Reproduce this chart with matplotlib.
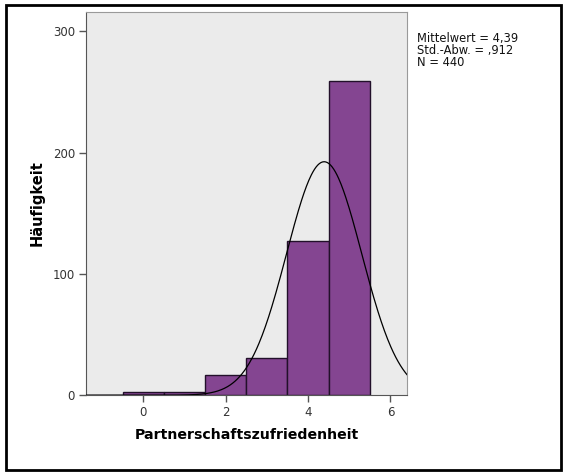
import numpy as np
import matplotlib

matplotlib.use("Agg")
import matplotlib.pyplot as plt
from matplotlib.patches import Rectangle

# histogram data
bin_centers = [-1, 0, 1, 2, 3, 4, 5]
counts = [0, 3, 3, 17, 31, 127, 259]
mean_val = 4.39
std_val = 0.912
n_total = 440
stats_lines = ["Mittelwert = 4,39", "Std.-Abw. = ,912", "N = 440"]
x_ticks = [0, 2, 4, 6]
y_ticks = [0, 100, 200, 300]

plt.rcParams["font.family"] = ["DejaVu Sans"]

fig = plt.figure(figsize=(5.66, 4.75), dpi=100)
ax = fig.add_axes([0.152, 0.168, 0.567, 0.807])
ax.set_facecolor("#ebebeb")

ax.bar(bin_centers, counts, width=1.0, color="#844591", edgecolor="#22102a",
       linewidth=1.0, zorder=2)

xlim = (-1.39, 6.40)
xs = np.linspace(xlim[0], xlim[1], 400)
ys = n_total / (std_val * np.sqrt(2 * np.pi)) * np.exp(-0.5 * ((xs - mean_val) / std_val) ** 2)
ax.plot(xs, ys, color="black", linewidth=0.9, zorder=3)

ax.set_xlim(*xlim)
ax.set_ylim(0, 316)
ax.set_xticks(x_ticks)
ax.set_yticks(y_ticks)
ax.tick_params(direction="out", length=5, width=1, color="#555555",
               labelsize=8.5, labelcolor="#333333", pad=3)
for spine in ax.spines.values():
    spine.set_color("#9a9a9a")
ax.spines["left"].set_color("#555555")
ax.spines["bottom"].set_color("#555555")

ax.set_xlabel("Partnerschaftszufriedenheit", fontsize=10.2, fontweight="bold", labelpad=6)
ax.set_ylabel("Häufigkeit", fontsize=10.5, fontweight="bold", labelpad=6)

fig.text(0.737, 0.932, "\n".join(stats_lines), fontsize=8.3, va="top", ha="left",
         linespacing=0.9, color="#111111")

# black outer frame
fig.patches.append(Rectangle((0.010, 0.010), 0.981, 0.979, transform=fig.transFigure,
                             fill=False, edgecolor="black", linewidth=2))

fig.savefig("out.png", dpi=100)
plt.close(fig)
